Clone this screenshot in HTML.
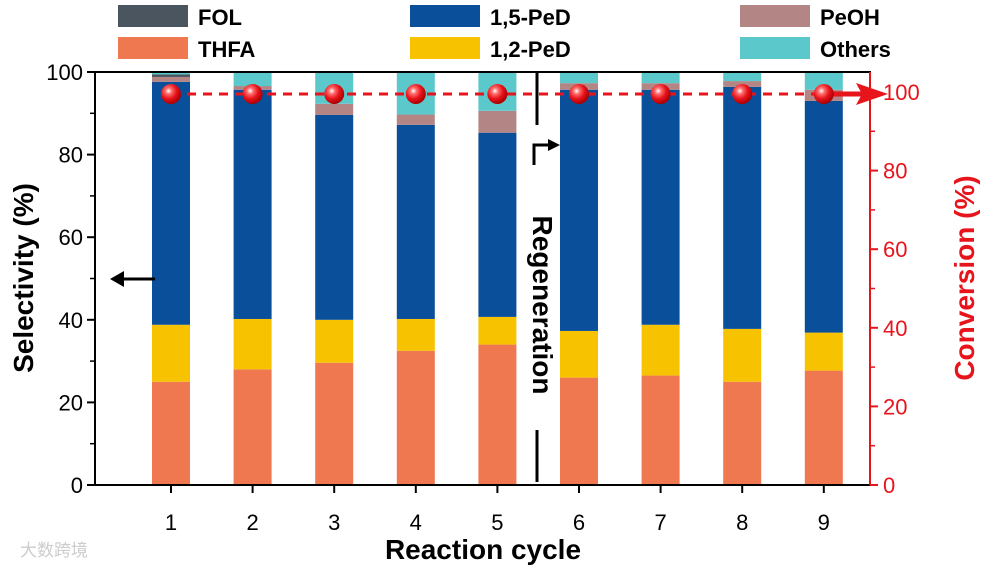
<!DOCTYPE html>
<html><head><meta charset="utf-8"><style>
html,body{margin:0;padding:0;background:#fff;}
svg{display:block;font-family:"Liberation Sans","Noto Sans CJK SC",sans-serif;}
</style></head><body>
<svg id="c" width="1000" height="569" viewBox="0 0 1000 569">
<g id="legend"></g>
<g id="bars"></g>
<g id="axes"></g>
<g id="conv"></g>
<text x="20" y="556" font-size="17" fill="#ccc">大数跨境</text>
</svg>
<script>
const cycles=["1","2","3","4","5","6","7","8","9"];
const thfa=[25,28,29.6,32.5,34,26,26.5,25,27.7];
const pd12=[13.8,12.2,10.4,7.7,6.7,11.3,12.3,12.8,9.2];
const pd15=[58.8,55.5,49.6,47,44.6,58.4,56.9,58.6,56.1];
const peoh=[1.2,0.9,2.7,2.5,5.3,1.6,1.6,1.4,2.7];
const fol=[0.6,0,0,0,0,0,0,0,0];
const conversion=[99.5,99.5,99.5,99.5,99.5,99.5,99.5,99.5,99.5];
const leftTicks=[0,20,40,60,80,100];
const rightTicks=[0,20,40,60,80,100];
const NS="http://www.w3.org/2000/svg";
const X0=95,X1=870,YB=485,YT=72,YRT=92;
const xc=i=>171+i*81.6;
const yL=v=>YB-v*(YB-YT)/100;
const yR=v=>YB-v*(YB-YRT)/100;
function mk(tag,at,par,txt){const e=document.createElementNS(NS,tag);for(const k in at)e.setAttribute(k,at[k]);if(txt!==undefined)e.textContent=txt;document.getElementById(par).appendChild(e);return e;}
const cols={thfa:"#f07850",pd12:"#f7c300",pd15:"#0a4f9a",peoh:"#b38585",fol:"#4a5560",oth:"#5bc8cc"};
const leg=[["FOL",cols.fol,118,5],["1,5-PeD",cols.pd15,410,5],["PeOH",cols.peoh,740,5],["THFA",cols.thfa,118,37],["1,2-PeD",cols.pd12,410,37],["Others",cols.oth,740,37]];
leg.forEach(l=>{
 const r=mk("rect",{x:l[2],y:l[3],width:70,height:22,fill:l[1]},"legend");
 
 
 const t=mk("text",{x:l[2]+80,y:l[3]+20,"font-size":22,"font-weight":"bold"},"legend",l[0]);
 
 
});
cycles.forEach((c,i)=>{
 const segs=[["thfa",thfa[i]],["pd12",pd12[i]],["pd15",pd15[i]],["peoh",peoh[i]],["fol",fol[i]]];
 let acc=0;
 const tot=segs.reduce((a,s)=>a+s[1],0);
 segs.push(["oth",Math.max(0,100-tot)]);
 segs.forEach(s=>{
  if(s[1]<=0)return;
  const r=mk("rect",{x:xc(i)-19,y:yL(acc+s[1]),width:38,height:yL(acc)-yL(acc+s[1]),fill:cols[s[0]]},"bars");
  
  
  acc+=s[1];
 });
});
mk("rect",{x:X0,y:YT,width:X1-X0,height:YB-YT,fill:"none",stroke:"#000","stroke-width":2},"axes");
mk("line",{x1:X1,y1:YT,x2:X1,y2:YB,stroke:"#e8141c","stroke-width":2},"axes");
leftTicks.forEach(v=>{
 mk("line",{x1:X0-8,y1:yL(v),x2:X0,y2:yL(v),stroke:"#000","stroke-width":2},"axes");
 if(v<100)mk("line",{x1:X0-5,y1:yL(v+10),x2:X0,y2:yL(v+10),stroke:"#000","stroke-width":1.5},"axes");
 const t=mk("text",{x:X0-12,y:yL(v)+8,"font-size":22,"text-anchor":"end"},"axes",v);
 
 
});
rightTicks.forEach(v=>{
 mk("line",{x1:X1,y1:yR(v),x2:X1+8,y2:yR(v),stroke:"#e8141c","stroke-width":2},"axes");
 if(v<100)mk("line",{x1:X1,y1:yR(v+10),x2:X1+5,y2:yR(v+10),stroke:"#e8141c","stroke-width":1.5},"axes");
 const t=mk("text",{x:X1+13,y:yR(v)+8,"font-size":22,fill:"#e8141c"},"axes",v);
 
 
});
cycles.forEach((c,i)=>{
 mk("line",{x1:xc(i),y1:YB,x2:xc(i),y2:YB+8,stroke:"#000","stroke-width":2},"axes");
 const t=mk("text",{x:xc(i),y:530,"font-size":22,"text-anchor":"middle"},"axes",c);
 
 
});
const xt=mk("text",{x:483,y:559,"font-size":28,"font-weight":"bold","text-anchor":"middle"},"axes","Reaction cycle");

const yt=mk("text",{x:0,y:0,"font-size":28,"font-weight":"bold","text-anchor":"middle",transform:"translate(33,278) rotate(-90)"},"axes","Selectivity (%)");

const yt2=mk("text",{x:0,y:0,"font-size":28,"font-weight":"bold","text-anchor":"middle",fill:"#e8141c",transform:"translate(974,278) rotate(-90)"},"axes","Conversion (%)");

mk("line",{x1:537,y1:YT,x2:537,y2:125,stroke:"#000","stroke-width":3},"axes");
mk("line",{x1:537,y1:430,x2:537,y2:482,stroke:"#000","stroke-width":3},"axes");
mk("path",{d:"M534 165 L534 145 L556 145",fill:"none",stroke:"#000","stroke-width":3},"axes");
mk("path",{d:"M548 139 L560 145 L548 151 Z",fill:"#000"},"axes");
const rg=mk("text",{x:0,y:0,"font-size":28,"font-weight":"bold","text-anchor":"middle",transform:"translate(533,305) rotate(90)"},"axes","Regeneration");

mk("line",{x1:155,y1:279,x2:118,y2:279,stroke:"#000","stroke-width":3},"axes");
mk("path",{d:"M110 279 L124 271 L124 287 Z",fill:"#000"},"axes");
const defs=mk("defs",{},"conv");
const g=document.createElementNS(NS,"radialGradient");g.setAttribute("id","ball");g.setAttribute("cx","0.38");g.setAttribute("cy","0.35");g.setAttribute("r","0.65");
[["0","#fff"],["0.25","#ff6b6b"],["0.6","#e8141c"],["1","#a00"]].forEach(s=>{const st=document.createElementNS(NS,"stop");st.setAttribute("offset",s[0]);st.setAttribute("stop-color",s[1]);g.appendChild(st);});
defs.appendChild(g);
mk("line",{x1:xc(0),y1:yR(conversion[0]),x2:xc(8),y2:yR(conversion[8]),stroke:"#e8141c","stroke-width":3,"stroke-dasharray":"9,7"},"conv");
mk("line",{x1:xc(8),y1:yR(conversion[8]),x2:862,y2:yR(conversion[8]),stroke:"#e8141c","stroke-width":5},"conv");
mk("path",{d:`M888 ${yR(conversion[8])} L856 ${yR(conversion[8])-11} L862 ${yR(conversion[8])} L856 ${yR(conversion[8])+11} Z`,fill:"#e8141c"},"conv");
conversion.forEach((v,i)=>{
 const p=mk("circle",{cx:xc(i),cy:yR(v),r:10,fill:"url(#ball)"},"conv");
 
 
});
</script>
</body></html>
